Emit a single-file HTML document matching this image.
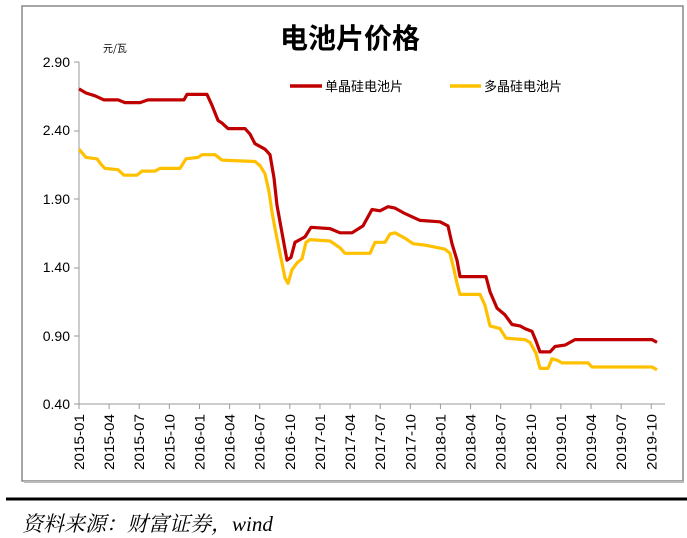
<!DOCTYPE html><html><head><meta charset="utf-8"><style>
body{margin:0;background:#fff;width:687px;height:538px;overflow:hidden;font-family:"Liberation Sans","Noto Sans CJK SC",sans-serif}
</style></head><body>
<svg width="687" height="538" xmlns="http://www.w3.org/2000/svg" style="position:absolute;left:0;top:0">
<rect x="22" y="6" width="661" height="475" fill="#fff" stroke="#888" stroke-width="1.5"/>
<line x1="24" y1="482" x2="684" y2="482" stroke="#bbb" stroke-width="2"/>
<text x="350" y="48" text-anchor="middle" font-size="28" font-weight="bold" font-family="Liberation Sans,Noto Sans CJK SC,sans-serif" fill="#000">电池片价格</text>
<text x="103" y="52" font-size="10" font-family="Noto Sans CJK SC,sans-serif">元/瓦</text>
<g font-size="14" text-anchor="end" fill="#000">
<text x="70" y="67">2.90</text><text x="70" y="135">2.40</text><text x="70" y="204">1.90</text><text x="70" y="272">1.40</text><text x="70" y="341">0.90</text><text x="70" y="409">0.40</text>
</g>
<g stroke="#999" stroke-width="1"><line x1="79" y1="62" x2="79" y2="404"/><line x1="79" y1="404" x2="665" y2="404"/>
<line x1="74" y1="62" x2="79" y2="62"/><line x1="74" y1="131" x2="79" y2="131"/><line x1="74" y1="199" x2="79" y2="199"/><line x1="74" y1="268" x2="79" y2="268"/><line x1="74" y1="336" x2="79" y2="336"/><line x1="74" y1="404" x2="79" y2="404"/>
</g>
<g id="xt"></g>
<g id="ser"></g>
<line x1="290" y1="86" x2="322" y2="86" stroke="#c00000" stroke-width="3.5"/>
<text x="325" y="91" font-size="13">单晶硅电池片</text>
<line x1="450" y1="86" x2="481" y2="86" stroke="#ffc000" stroke-width="3.5"/>
<text x="484" y="91" font-size="13">多晶硅电池片</text>
<line x1="6" y1="499" x2="687" y2="499" stroke="#000" stroke-width="3"/>
<text x="22" y="531" font-size="21" font-style="italic" font-family="Liberation Serif,Noto Serif CJK SC,serif">资料来源：财富证券，wind</text>
</svg>
<script>
var ns="http://www.w3.org/2000/svg";
function Y(v){return 404-(v-0.4)*137;}
var xt=document.getElementById('xt');
var labs=[];for(var yr=2015;yr<=2019;yr++)for(var m of ['01','04','07','10'])labs.push(yr+'-'+m);
labs.forEach(function(l,i){var x=79+i*3*10.04;
var t=document.createElementNS(ns,'line');t.setAttribute('x1',x);t.setAttribute('x2',x);t.setAttribute('y1',404);t.setAttribute('y2',409);t.setAttribute('stroke','#999');xt.appendChild(t);
var s=document.createElementNS(ns,'text');s.setAttribute('transform','translate('+(x+5)+',470) rotate(-90)');s.setAttribute('font-size','14');s.setAttribute('textLength','56');s.setAttribute('lengthAdjust','spacingAndGlyphs');s.textContent=l;xt.appendChild(s);});
var red=[[79,2.70],[86,2.67],[95,2.65],[104,2.62],[118,2.62],[125,2.60],[140,2.60],[148,2.62],[184,2.62],[187,2.66],[207,2.66],[212,2.58],[218,2.47],[222,2.45],[228,2.41],[245,2.41],[250,2.37],[255,2.30],[265,2.26],[270,2.22],[274,2.05],[277,1.85],[282,1.65],[287,1.45],[291,1.47],[295,1.58],[305,1.62],[311,1.69],[330,1.68],[340,1.65],[352,1.65],[363,1.70],[372,1.82],[380,1.81],[388,1.84],[395,1.83],[405,1.79],[420,1.74],[440,1.73],[448,1.70],[452,1.57],[457,1.45],[460,1.33],[486,1.33],[490,1.22],[497,1.10],[505,1.05],[512,0.98],[520,0.97],[525,0.95],[532,0.93],[536,0.86],[540,0.78],[550,0.78],[555,0.82],[565,0.83],[570,0.85],[575,0.87],[652,0.87],[657,0.85]];
var yel=[[79,2.26],[86,2.20],[97,2.19],[101,2.15],[105,2.12],[118,2.11],[124,2.07],[137,2.07],[142,2.10],[155,2.10],[160,2.12],[180,2.12],[186,2.19],[198,2.20],[202,2.22],[215,2.22],[222,2.18],[255,2.17],[260,2.14],[265,2.08],[269,1.95],[272,1.80],[275,1.68],[280,1.50],[285,1.32],[288,1.28],[292,1.38],[297,1.43],[302,1.46],[306,1.58],[310,1.60],[330,1.59],[340,1.54],[345,1.50],[370,1.50],[375,1.58],[385,1.58],[390,1.64],[395,1.65],[405,1.61],[413,1.57],[425,1.56],[445,1.53],[450,1.50],[454,1.38],[457,1.28],[460,1.20],[480,1.20],[485,1.12],[490,0.97],[500,0.95],[506,0.88],[525,0.87],[530,0.85],[536,0.77],[540,0.66],[548,0.66],[552,0.73],[557,0.72],[562,0.70],[588,0.70],[592,0.67],[652,0.67],[657,0.65]];
function pl(d,c){var p=document.createElementNS(ns,'polyline');p.setAttribute('points',d.map(function(a){return a[0]+','+Y(a[1]).toFixed(1)}).join(' '));p.setAttribute('fill','none');p.setAttribute('stroke',c);p.setAttribute('stroke-width','3.2');p.setAttribute('stroke-linejoin','round');document.getElementById('ser').appendChild(p);}
pl(yel,'#ffc000');pl(red,'#c00000');
</script>
</body></html>
